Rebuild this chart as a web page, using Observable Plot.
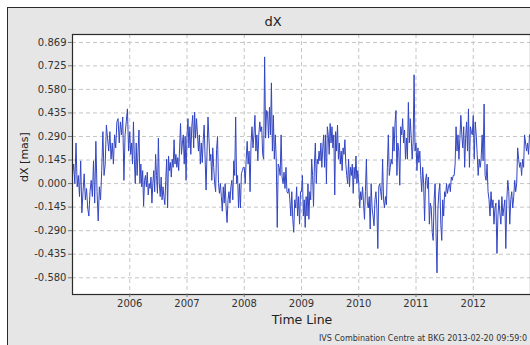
<!DOCTYPE html>
<html>
<head>
<meta charset="utf-8">
<script src="https://cdn.jsdelivr.net/npm/d3@7"></script>
<script src="https://cdn.jsdelivr.net/npm/@observablehq/plot@0.6"></script>
<style>
  html, body { margin: 0; padding: 0; background: #ffffff; }
  body { width: 530px; height: 345px; overflow: hidden; position: relative; font-family: "DejaVu Sans", sans-serif; }
  #panel { position: absolute; left: 7px; top: 7px; width: 540px; height: 350px; background: #e6e6e6;
           border-left: 1.5px solid #2b2b2b; border-top: 1.5px solid #2b2b2b; }
  #chart { position: absolute; left: 0; top: 0; }
  .lbl { position: absolute; color: #222; white-space: nowrap; }
  #title { left: 273px; top: 21px; font-size: 13px; transform: translate(-50%, -50%); }
  #ylabel { left: 24px; top: 157px; font-size: 11px; transform: translate(-50%, -50%) rotate(-90deg); }
  #xlabel { left: 302px; top: 319px; font-size: 12.5px; transform: translate(-50%, -50%); }
  #caption { left: 319px; top: 334px; font-size: 8px; color: #333; }
</style>
</head>
<body>
<div id="panel"></div>
<div id="chart"></div>
<div class="lbl" id="title">dX</div>
<div class="lbl" id="ylabel">dX [mas]</div>
<div class="lbl" id="xlabel">Time Line</div>
<div class="lbl" id="caption">IVS Combination Centre at BKG 2013-02-20 09:59:0</div>
<script>
// Combined EOP series: dX celestial pole offset [mas], one array per calendar year
const years = [2005, 2006, 2007, 2008, 2009, 2010, 2011, 2012];

const dx2005 = [0.06, 0.12, 0.0, 0.25, -0.02, 0.05, -0.08, 0.14, -0.18, -0.05, 0.06, -0.1, -0.03, -0.15, -0.2, -0.05, 0.02, -0.08, 0.14, -0.12, 0.26, -0.05, -0.23, -0.02, -0.1, 0.08, 0.32, 0.05, 0.12, 0.36, 0.28, 0.2, 0.32, 0.15, 0.25, 0.12, 0.3, 0.22, 0.38, 0.4, 0.25, 0.38, 0.3, 0.41, 0.02, 0.3, 0.38, 0.46, 0.2];
const dx2006 = [0.32, 0.18, 0.25, 0.12, 0.38, 0.15, 0.0, 0.25, 0.05, 0.2, 0.33, 0.0, 0.12, -0.02, 0.08, -0.14, 0.02, 0.05, -0.02, 0.07, -0.07, 0.0, -0.03, 0.04, -0.12, 0.0, 0.08, -0.05, 0.18, 0.05, -0.06, 0.28, 0.0, -0.08, 0.04, -0.1, -0.02, -0.08, -0.13, 0.02, 0.15, -0.15, 0.17, 0.08, 0.13, 0.04, 0.15, 0.1, 0.27, 0.12, 0.18, 0.1, 0.16, 0.08, 0.22, 0.37, 0.18, 0.25, 0.3, 0.12, 0.29, 0.02];
const dx2007 = [0.3, 0.4, 0.22, 0.35, 0.18, 0.35, 0.42, 0.22, 0.44, 0.28, 0.4, 0.3, 0.2, 0.3, 0.12, 0.25, 0.13, 0.27, 0.36, 0.15, -0.04, 0.2, 0.41, 0.28, 0.14, 0.18, 0.02, 0.22, 0.1, 0.0, -0.05, 0.21, 0.29, 0.0, -0.06, 0.0, -0.08, -0.17, -0.02, -0.12, 0.0, -0.15, -0.24, -0.1, -0.05, -0.12, -0.02, 0.02, -0.1, 0.14, 0.05, 0.41, 0.0, 0.05, -0.15, 0.0, -0.15, 0.06, 0.08, 0.1];
const dx2008 = [0.1, 0.0, 0.15, 0.26, 0.12, 0.2, -0.05, 0.25, 0.35, 0.22, 0.3, 0.42, 0.2, 0.3, 0.14, 0.3, 0.38, 0.32, 0.35, 0.18, 0.15, 0.78, 0.28, 0.45, 0.44, 0.28, 0.47, 0.3, 0.62, 0.2, 0.42, 0.15, 0.3, 0.14, -0.27, 0.12, 0.1, 0.05, 0.3, 0.04, 0.0, 0.07, -0.03, 0.1, -0.05, -0.06, -0.03, -0.1, -0.2, -0.05, -0.22, -0.3, -0.1, -0.15, -0.02, -0.2, -0.08, -0.25, -0.05];
const dx2009 = [-0.05, 0.05, -0.2, -0.1, -0.27, -0.08, -0.2, 0.0, -0.22, -0.05, -0.1, 0.15, 0.05, -0.14, 0.12, 0.25, 0.0, 0.15, 0.12, 0.2, 0.14, 0.25, 0.1, 0.22, 0.3, 0.1, 0.3, 0.0, 0.35, 0.3, 0.18, 0.37, 0.25, 0.35, 0.22, 0.3, -0.07, 0.32, 0.2, 0.36, 0.15, 0.25, 0.12, 0.2, 0.08, 0.22, 0.18, 0.27, 0.12, 0.05, 0.0, 0.15, -0.02, 0.1, 0.05, 0.12, -0.06, 0.1, 0.03, 0.17, 0.0, 0.08];
const dx2010 = [0.0, -0.15, -0.05, -0.1, -0.02, -0.12, -0.22, -0.05, 0.15, -0.12, -0.15, -0.08, -0.28, 0.0, -0.15, -0.2, -0.26, -0.1, -0.05, -0.15, -0.4, -0.02, 0.0, -0.05, -0.1, 0.15, -0.1, -0.15, -0.08, -0.13, 0.1, 0.3, 0.05, 0.1, 0.15, 0.12, 0.35, 0.2, 0.37, 0.45, 0.05, 0.25, 0.2, -0.01, 0.35, 0.3, 0.4, 0.25, 0.33, 0.15, 0.28, 0.15, 0.5, 0.25, 0.4, 0.28, 0.15, 0.25, 0.67, 0.2];
const dx2011 = [0.25, 0.08, 0.22, 0.13, 0.2, 0.05, -0.05, 0.1, 0.0, -0.23, 0.02, 0.06, -0.03, 0.04, -0.25, -0.12, -0.15, -0.3, -0.35, -0.1, 0.0, -0.3, -0.55, -0.15, -0.05, 0.0, -0.25, -0.35, -0.1, -0.2, -0.05, -0.08, 0.0, -0.06, -0.02, 0.0, -0.05, 0.04, 0.02, 0.05, 0.05, 0.12, 0.35, 0.2, 0.3, 0.15, 0.28, 0.42, 0.3, 0.22, 0.35, 0.1, 0.28, 0.38, 0.2, 0.46, 0.1, 0.35, 0.32, 0.3];
const dx2012 = [0.42, 0.15, 0.38, 0.3, 0.18, 0.05, 0.15, 0.1, 0.15, 0.3, 0.14, 0.49, 0.05, 0.02, 0.12, -0.05, -0.1, -0.2, -0.05, -0.15, -0.1, -0.25, -0.15, -0.12, -0.43, -0.2, -0.1, -0.18, -0.25, -0.08, -0.2, -0.15, -0.1, -0.4, -0.1, 0.02, -0.05, -0.25, -0.1, -0.05, -0.15, -0.08, 0.02, -0.05, 0.0, 0.22, 0.15, 0.1, 0.13, 0.05, 0.15, 0.1, 0.3, 0.25, 0.2, 0.25, 0.18, 0.3];

const yTicks = [0.869, 0.725, 0.580, 0.435, 0.290, 0.145, 0.000, -0.145, -0.290, -0.435, -0.580];
const yTickLabels = ["0.869", "0.725", "0.580", "0.435", "0.290", "0.145", "0.000", "-0.145", "-0.290", "-0.435", "-0.580"];
const xTicks = [2006, 2007, 2008, 2009, 2010, 2011, 2012];

// Sessions within each year are spread evenly over the year (decimal-year epochs)
const yearly = [dx2005, dx2006, dx2007, dx2008, dx2009, dx2010, dx2011, dx2012];
const rows = [];
yearly.forEach((vals, k) => vals.forEach((v, i) => rows.push({t: years[k] + i / vals.length, v})));

const gridStyle = {stroke: "#c6c6c6", strokeOpacity: 1, strokeWidth: 1, strokeDasharray: "4,3"};

const chart = Plot.plot({
  width: 530,
  height: 345,
  marginLeft: 72,
  marginRight: 0,
  marginTop: 34,
  marginBottom: 51,
  style: {background: "transparent", fontFamily: "DejaVu Sans, sans-serif", fontSize: "10px", color: "#333"},
  x: {domain: [2005, 2013]},
  y: {domain: [-0.683, 0.918]},
  marks: [
    Plot.frame({fill: "#ffffff", stroke: "none"}),
    Plot.gridX(xTicks, gridStyle),
    Plot.gridY(yTicks, gridStyle),
    Plot.line(rows, {x: "t", y: "v", stroke: "#3346c2", strokeWidth: 1}),
    Plot.frame({stroke: "#2b2b2b", strokeWidth: 1.2}),
    Plot.axisX(xTicks, {tickSize: 3, tickPadding: 2, tickFormat: d => String(d), label: null, stroke: "#777"}),
    Plot.axisY(yTicks, {tickSize: 4, tickPadding: 2, tickFormat: d => yTickLabels[yTicks.indexOf(d)], label: null, stroke: "#777"})
  ]
});
document.getElementById("chart").appendChild(chart);
</script>
</body>
</html>
